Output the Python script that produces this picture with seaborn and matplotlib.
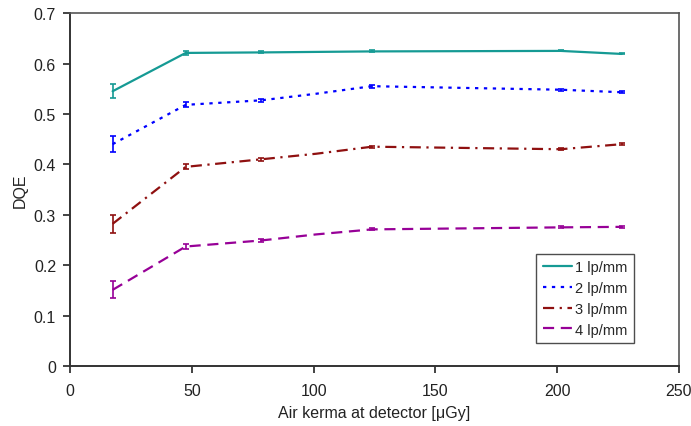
import matplotlib
matplotlib.use("Agg")
import matplotlib.pyplot as plt
import matplotlib.ticker as mticker
import numpy as np
import pandas as pd
import seaborn as sns

# Air kerma at the detector (uGy) and DQE per spatial frequency
kerma = [17.5, 47.5, 78.5, 101, 124, 201.5, 226.5]
dqe_1 = [0.545, 0.621, 0.622, 0.623, 0.624, 0.625, 0.619]
dqe_2 = [0.440, 0.518, 0.527, 0.540, 0.555, 0.548, 0.543]
dqe_3 = [0.282, 0.395, 0.410, 0.421, 0.435, 0.430, 0.440]
dqe_4 = [0.151, 0.237, 0.249, 0.261, 0.271, 0.275, 0.276]
err_1 = [0.014, 0.0045, 0.002, 0.0, 0.002, 0.001, 0.001]
err_2 = [0.016, 0.005, 0.003, 0.0, 0.003, 0.002, 0.002]
err_3 = [0.0175, 0.005, 0.003, 0.0, 0.002, 0.002, 0.002]
err_4 = [0.017, 0.005, 0.003, 0.0, 0.002, 0.002, 0.002]
labels = ["1 lp/mm", "2 lp/mm", "3 lp/mm", "4 lp/mm"]

colors = {"1 lp/mm": "#159a94", "2 lp/mm": "#0000ff",
          "3 lp/mm": "#8f1010", "4 lp/mm": "#970097"}
dashes = {"1 lp/mm": "", "2 lp/mm": (1.5, 2.5),
          "3 lp/mm": (5, 2.5, 1, 2.5), "4 lp/mm": (5, 3)}

frames = []
for lab, y, e in zip(labels, [dqe_1, dqe_2, dqe_3, dqe_4],
                     [err_1, err_2, err_3, err_4]):
    frames.append(pd.DataFrame({"kerma": kerma, "dqe": y, "err": e, "series": lab}))
df = pd.concat(frames, ignore_index=True)

sns.set_style("white")
plt.rcParams["font.family"] = ["Liberation Sans", "DejaVu Sans"]

fig = plt.figure(figsize=(6.91, 4.27), dpi=100)
ax = fig.add_axes([0.1013, 0.1405, 0.8813, 0.8265])

sns.lineplot(data=df, x="kerma", y="dqe", hue="series", style="series",
             palette=colors, dashes=dashes, linewidth=1.6, ax=ax,
             legend=True, estimator=None, sort=False)

for lab in labels:
    sub = df[df["series"] == lab]
    m = sub["err"] > 0
    ax.errorbar(sub["kerma"][m], sub["dqe"][m], yerr=sub["err"][m], fmt="none",
                ecolor=colors[lab], elinewidth=1.2, capsize=2.3, capthick=1.2)

ax.set_xlim(0, 250)
ax.set_ylim(0, 0.7)
ax.set_xticks(np.arange(0, 251, 50))
ax.set_yticks(np.arange(0, 0.71, 0.1))
ax.yaxis.set_major_formatter(mticker.FuncFormatter(lambda v, p: f"{v:g}"))
ax.tick_params(axis="both", direction="out", length=5, width=1.2,
               labelsize=11.5, colors="#222222", bottom=True, left=True)
ax.tick_params(axis="x", pad=7)
ax.tick_params(axis="y", pad=5)
ax.set_xlabel("Air kerma at detector [\u03bcGy]", fontsize=11.5, color="#222222",
              labelpad=5)
ax.set_ylabel("DQE", fontsize=11.5, color="#222222", labelpad=4)

for side in ["left", "bottom"]:
    ax.spines[side].set_color("#333333")
    ax.spines[side].set_linewidth(1.4)
for side in ["top", "right"]:
    ax.spines[side].set_color("#555555")
    ax.spines[side].set_linewidth(1.2)

leg = ax.legend(loc="lower right", bbox_to_anchor=(0.926, 0.065), fontsize=10.5,
                frameon=True, fancybox=False, edgecolor="#222222",
                handlelength=2.0, handletextpad=0.2, borderpad=0.45,
                labelspacing=0.46, borderaxespad=0)
leg.get_frame().set_linewidth(1.0)

fig.savefig("out.png", dpi=100)
